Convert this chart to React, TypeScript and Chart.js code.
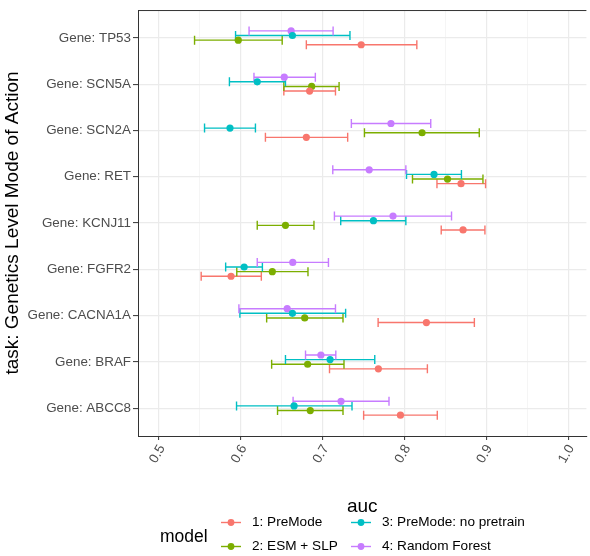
import React, { useEffect, useRef } from "react";
import { Chart, registerables } from "chart.js";

Chart.register(...registerables);

const genes = [
  "Gene: TP53",
  "Gene: SCN5A",
  "Gene: SCN2A",
  "Gene: RET",
  "Gene: KCNJ11",
  "Gene: FGFR2",
  "Gene: CACNA1A",
  "Gene: BRAF",
  "Gene: ABCC8",
];

const models = ["1: PreMode", "2: ESM + SLP", "3: PreMode: no pretrain", "4: Random Forest"];
const colors = ["#F8766D", "#7CAE00", "#00BFC4", "#C77CFF"];
const dodge = [0.15, 0.05, -0.05, -0.15];

// auc point estimates per model (order of genes above)
const premodeAuc = [0.747, 0.684, 0.68, 0.869, 0.8715, 0.588, 0.8267, 0.768, 0.795];
const premodeLo = [0.68, 0.6525, 0.63, 0.8396, 0.8448, 0.5515, 0.7677, 0.7083, 0.75];
const premodeHi = [0.815, 0.7156, 0.7305, 0.899, 0.8982, 0.625, 0.8853, 0.8279, 0.84];

const esmAuc = [0.5968, 0.6865, 0.8214, 0.8525, 0.6545, 0.6384, 0.678, 0.6816, 0.6848];
const esmLo = [0.5434, 0.6525, 0.751, 0.8097, 0.62, 0.595, 0.6315, 0.6376, 0.6448];
const esmHi = [0.6505, 0.72, 0.8913, 0.8958, 0.6893, 0.682, 0.7248, 0.726, 0.7248];

const noPretrainAuc = [0.663, 0.62, 0.5867, 0.836, 0.762, 0.604, 0.663, 0.709, 0.665];
const noPretrainLo = [0.5935, 0.586, 0.5556, 0.8024, 0.722, 0.5814, 0.5988, 0.6545, 0.5947];
const noPretrainHi = [0.7333, 0.6545, 0.6178, 0.8695, 0.8016, 0.6263, 0.728, 0.7636, 0.7358];

const rfAuc = [0.6614, 0.653, 0.7834, 0.7568, 0.7859, 0.6634, 0.6566, 0.6978, 0.7224];
const rfLo = [0.61, 0.616, 0.735, 0.7123, 0.7143, 0.62, 0.5976, 0.679, 0.6638];
const rfHi = [0.7127, 0.691, 0.832, 0.8016, 0.8574, 0.707, 0.7156, 0.716, 0.781];

const xTicks = [0.5, 0.55, 0.6, 0.65, 0.7, 0.75, 0.8, 0.85, 0.9, 0.95, 1.0];
const xTickLabels = ["0.5", "", "0.6", "", "0.7", "", "0.8", "", "0.9", "", "1.0"];

const seriesAuc = [premodeAuc, esmAuc, noPretrainAuc, rfAuc];
const seriesLo = [premodeLo, esmLo, noPretrainLo, rfLo];
const seriesHi = [premodeHi, esmHi, noPretrainHi, rfHi];

const FONT = "'Liberation Sans', Arial, Helvetica, sans-serif";

const errorBarPlugin = {
  id: "errorBars",
  beforeDatasetsDraw(chart: any) {
    const ctx = chart.ctx;
    const xs = chart.scales.x;
    const ys = chart.scales.y;
    ctx.save();
    chart.data.datasets.forEach((ds: any) => {
      ctx.strokeStyle = ds.borderColor;
      ctx.lineWidth = 1.4;
      ds.data.forEach((p: any) => {
        const y = ys.getPixelForValue(p.y);
        const x1 = xs.getPixelForValue(p.lo);
        const x2 = xs.getPixelForValue(p.hi);
        const cap = 4.5;
        ctx.beginPath();
        ctx.moveTo(x1, y);
        ctx.lineTo(x2, y);
        ctx.moveTo(x1, y - cap);
        ctx.lineTo(x1, y + cap);
        ctx.moveTo(x2, y - cap);
        ctx.lineTo(x2, y + cap);
        ctx.stroke();
      });
    });
    ctx.restore();
  },
};

const decorPlugin = {
  id: "decor",
  afterDraw(chart: any) {
    const ctx = chart.ctx;
    const a = chart.chartArea;
    const xs = chart.scales.x;
    ctx.save();
    // top border of panel
    ctx.strokeStyle = "#333333";
    ctx.lineWidth = 1;
    ctx.beginPath();
    ctx.moveTo(a.left, a.top + 0.5);
    ctx.lineTo(a.right, a.top + 0.5);
    ctx.stroke();

    // x tick labels (rotated 60 degrees, end anchored at tick)
    ctx.fillStyle = "#4D4D4D";
    ctx.font = `13.4px ${FONT}`;
    ctx.textAlign = "right";
    ctx.textBaseline = "middle";
    xTicks.forEach((v, i) => {
      const lab = xTickLabels[i];
      if (!lab) return;
      const px = xs.getPixelForValue(v);
      ctx.save();
      ctx.translate(px + 3, a.bottom + 10);
      ctx.rotate(-Math.PI / 3);
      ctx.fillText(lab, 0, 0);
      ctx.restore();
    });

    // axis titles
    ctx.fillStyle = "#000000";
    ctx.font = `19px ${FONT}`;
    ctx.textAlign = "center";
    ctx.textBaseline = "middle";
    ctx.fillText("auc", (a.left + a.right) / 2, 507);
    ctx.save();
    ctx.translate(13, (a.top + a.bottom) / 2);
    ctx.rotate(-Math.PI / 2);
    ctx.fillText("task: Genetics Level Mode of Action", 0, 0);
    ctx.restore();

    // legend
    ctx.textAlign = "left";
    ctx.font = `17.5px ${FONT}`;
    ctx.fillText("model", 160, 537);
    const cols = [221, 351];
    const rows = [522.5, 546.5];
    ctx.font = `13.6px ${FONT}`;
    models.forEach((m, i) => {
      const cx = cols[Math.floor(i / 2)];
      const cy = rows[i % 2];
      ctx.strokeStyle = colors[i];
      ctx.lineWidth = 1.4;
      ctx.beginPath();
      ctx.moveTo(cx, cy);
      ctx.lineTo(cx + 20, cy);
      ctx.stroke();
      ctx.fillStyle = colors[i];
      ctx.beginPath();
      ctx.arc(cx + 10, cy, 3.4, 0, Math.PI * 2);
      ctx.fill();
      ctx.fillStyle = "#000000";
      ctx.fillText(m, cx + 31, cy);
    });
    ctx.restore();
  },
};

export default function App() {
  const ref = useRef<HTMLCanvasElement>(null);

  useEffect(() => {
    if (!ref.current) return;
    const datasets = models.map((m, k) => ({
      label: m,
      data: genes.map((_, i) => ({
        x: seriesAuc[k][i],
        y: i + dodge[k],
        lo: seriesLo[k][i],
        hi: seriesHi[k][i],
      })),
      backgroundColor: colors[k],
      borderColor: colors[k],
      pointRadius: 3.6,
      pointBorderWidth: 0,
      pointHoverRadius: 3.6,
      showLine: false,
    }));

    const chart = new Chart(ref.current, {
      type: "scatter",
      data: { datasets },
      plugins: [errorBarPlugin, decorPlugin],
      options: {
        animation: false,
        responsive: false,
        devicePixelRatio: 1,
        layout: { padding: { top: 6, left: 0, right: 0, bottom: 0 } },
        plugins: { legend: { display: false }, tooltip: { enabled: false } },
        scales: {
          x: {
            type: "linear",
            min: 0.4743,
            max: 1.0222,
            afterBuildTicks: (s: any) => {
              s.ticks = xTicks.map((v) => ({ value: v }));
            },
            afterFit: (s: any) => {
              s.height = 120;
            },
            grid: {
              color: (c: any) => (c.index % 2 === 0 ? "#EBEBEB" : "#F2F2F2"),
              lineWidth: (c: any) => (c.index % 2 === 0 ? 1.2 : 0.8),
              tickLength: 4,
              tickColor: (c: any) => (c.index % 2 === 0 ? "#333333" : "rgba(0,0,0,0)"),
              tickWidth: 1,
            },
            border: { display: true, color: "#333333", width: 1 },
            ticks: { display: false, autoSkip: false },
          },
          y: {
            type: "linear",
            reverse: true,
            min: -0.6,
            max: 8.6,
            afterBuildTicks: (s: any) => {
              s.ticks = genes.map((_, i) => ({ value: i }));
            },
            afterFit: (s: any) => {
              s.width = 138;
            },
            grid: {
              color: "#EBEBEB",
              lineWidth: 1.2,
              tickLength: 5,
              tickColor: "#333333",
              tickWidth: 1,
            },
            border: { display: true, color: "#333333", width: 1 },
            ticks: {
              autoSkip: false,
              padding: 2,
              color: "#4D4D4D",
              font: { size: 13.4, family: FONT },
              callback: (v: any) => genes[Math.round(Number(v))] ?? "",
            },
          },
        },
      },
    } as any);
    return () => chart.destroy();
  }, []);

  return (
    <div style={{ position: "fixed", left: 0, top: 0, width: 590, height: 556, background: "#fff" }}>
      <canvas ref={ref} width={590} height={556} style={{ width: 590, height: 556, display: "block" }} />
    </div>
  );
}
